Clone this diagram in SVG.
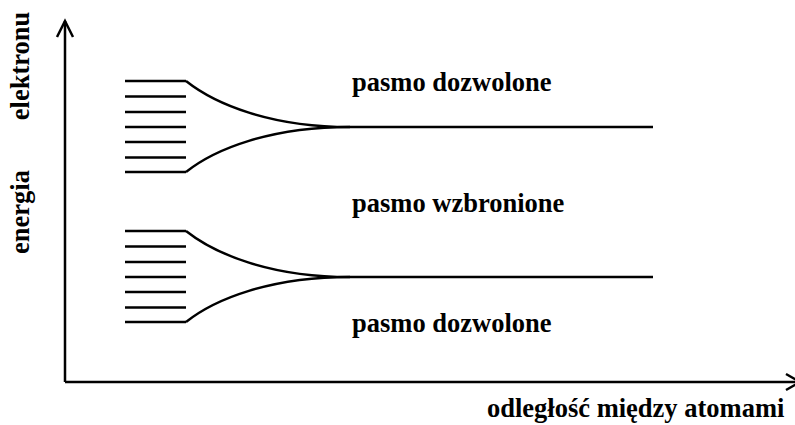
<svg xmlns="http://www.w3.org/2000/svg" width="795" height="425" viewBox="0 0 795 425">
  <style>
    .ln { fill: none; stroke: #000; stroke-width: 2.4; }
    .ax { fill: none; stroke: #000; stroke-width: 2.5; }
    text { font-family: 'Liberation Serif', 'DejaVu Serif', serif; font-weight: 700; font-size: 26.5px; fill: #000; }
  </style>
  <defs>
    <!-- a set of discrete atomic levels splitting into a band -->
    <g id="band-shape">
      <path class="ln" d="M125,81H186M125,96.5H186M125,112H186M125,127H186M125,142H186M125,157.5H186M125,172H186"/>
      <path class="ln" d="M186,81C215,104 270,127 350,127"/>
      <path class="ln" d="M186,172C215,149 270,127 350,127"/>
      <path class="ln" d="M350,127H653"/>
    </g>
  </defs>
  <rect width="795" height="425" fill="#fff"/>

  <g id="axes">
    <path class="ax" d="M65,382V21"/>
    <path class="ax" d="M57,37L65,21L73,37"/>
    <path class="ax" d="M65,382H798"/>
    <path class="ax" d="M786,374L800,382L786,390"/>
  </g>

  <g id="upper-band">
    <use href="#band-shape"/>
  </g>
  <g id="lower-band">
    <use href="#band-shape" transform="translate(0,150)"/>
  </g>

  <g id="labels" font-family="Liberation Serif, serif" font-weight="bold" font-size="26.5">
    <text x="352" y="91">pasmo dozwolone</text>
    <text x="352" y="212">pasmo wzbronione</text>
    <text x="352" y="332">pasmo dozwolone</text>
    <text x="487" y="417">odległość między atomami</text>
    <text transform="translate(29,66) rotate(-90)" text-anchor="middle">elektronu</text>
    <text transform="translate(29,212) rotate(-90)" text-anchor="middle">energia</text>
  </g>
</svg>
